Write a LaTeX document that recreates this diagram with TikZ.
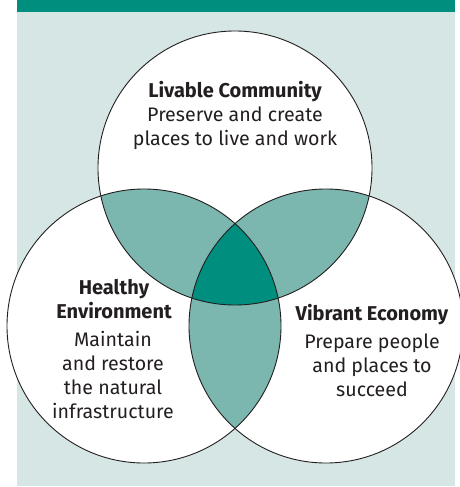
\documentclass[tikz,border=0pt]{standalone}
\usepackage{fontspec}
\setmainfont{Fira Sans}
\definecolor{panelbg}{HTML}{D5E6E5}
\definecolor{deepteal}{HTML}{008F7E}
\definecolor{softteal}{HTML}{7BB6AF}
\definecolor{ink}{HTML}{231F20}
\begin{document}
\begin{tikzpicture}[x=1pt,y=-1pt,
  ring/.style={draw=ink,line width=0.9pt},
  heading/.style={anchor=base,text=ink,font=\bfseries\fontsize{20}{24}\selectfont,align=center,inner sep=0pt},
  blurb/.style={anchor=base,text=ink,font=\fontsize{19.6}{23.7}\selectfont,align=center,inner sep=0pt}]
  \useasboundingbox (0,0) rectangle (460,487);
  % backdrop panel and top band
  \fill[panelbg] (17,0) rectangle (455,486);
  \fill[deepteal] (17,0) rectangle (455,12);
  % circle centres
  \coordinate (ct) at (235,168);
  \coordinate (cl) at (144,326);
  \coordinate (cr) at (326,326);
  \def\R{137pt}
  % white discs
  \foreach \c in {ct,cl,cr} \fill[white] (\c) circle[radius=\R];
  % pairwise overlaps
  \begin{scope}
    \clip (ct) circle[radius=\R];
    \fill[softteal] (cl) circle[radius=\R];
    \fill[softteal] (cr) circle[radius=\R];
  \end{scope}
  \begin{scope}
    \clip (cl) circle[radius=\R];
    \fill[softteal] (cr) circle[radius=\R];
  \end{scope}
  % triple overlap
  \begin{scope}
    \clip (ct) circle[radius=\R];
    \clip (cl) circle[radius=\R];
    \fill[deepteal] (cr) circle[radius=\R];
  \end{scope}
  % outlines
  \foreach \c in {ct,cl,cr} \draw[ring] (\c) circle[radius=\R];
  % labels (multi-line nodes sit on the baseline of their last line)
  \node[heading] (lc-title) at (235,97) {Livable Community};
  \node[blurb] (lc-text) at (235,145) {Preserve and create\\places to live and work};
  \node[heading] (he-title) at (114,318) {Healthy\\Environment};
  \node[blurb] (he-text) at (113,418) {Maintain\\and restore\\the natural\\infrastructure};
  \node[heading] (ve-title) at (372,320) {Vibrant Economy};
  \node[blurb] (ve-text) at (372,396) {Prepare people\\and places to\\succeed};
\end{tikzpicture}
\end{document}
